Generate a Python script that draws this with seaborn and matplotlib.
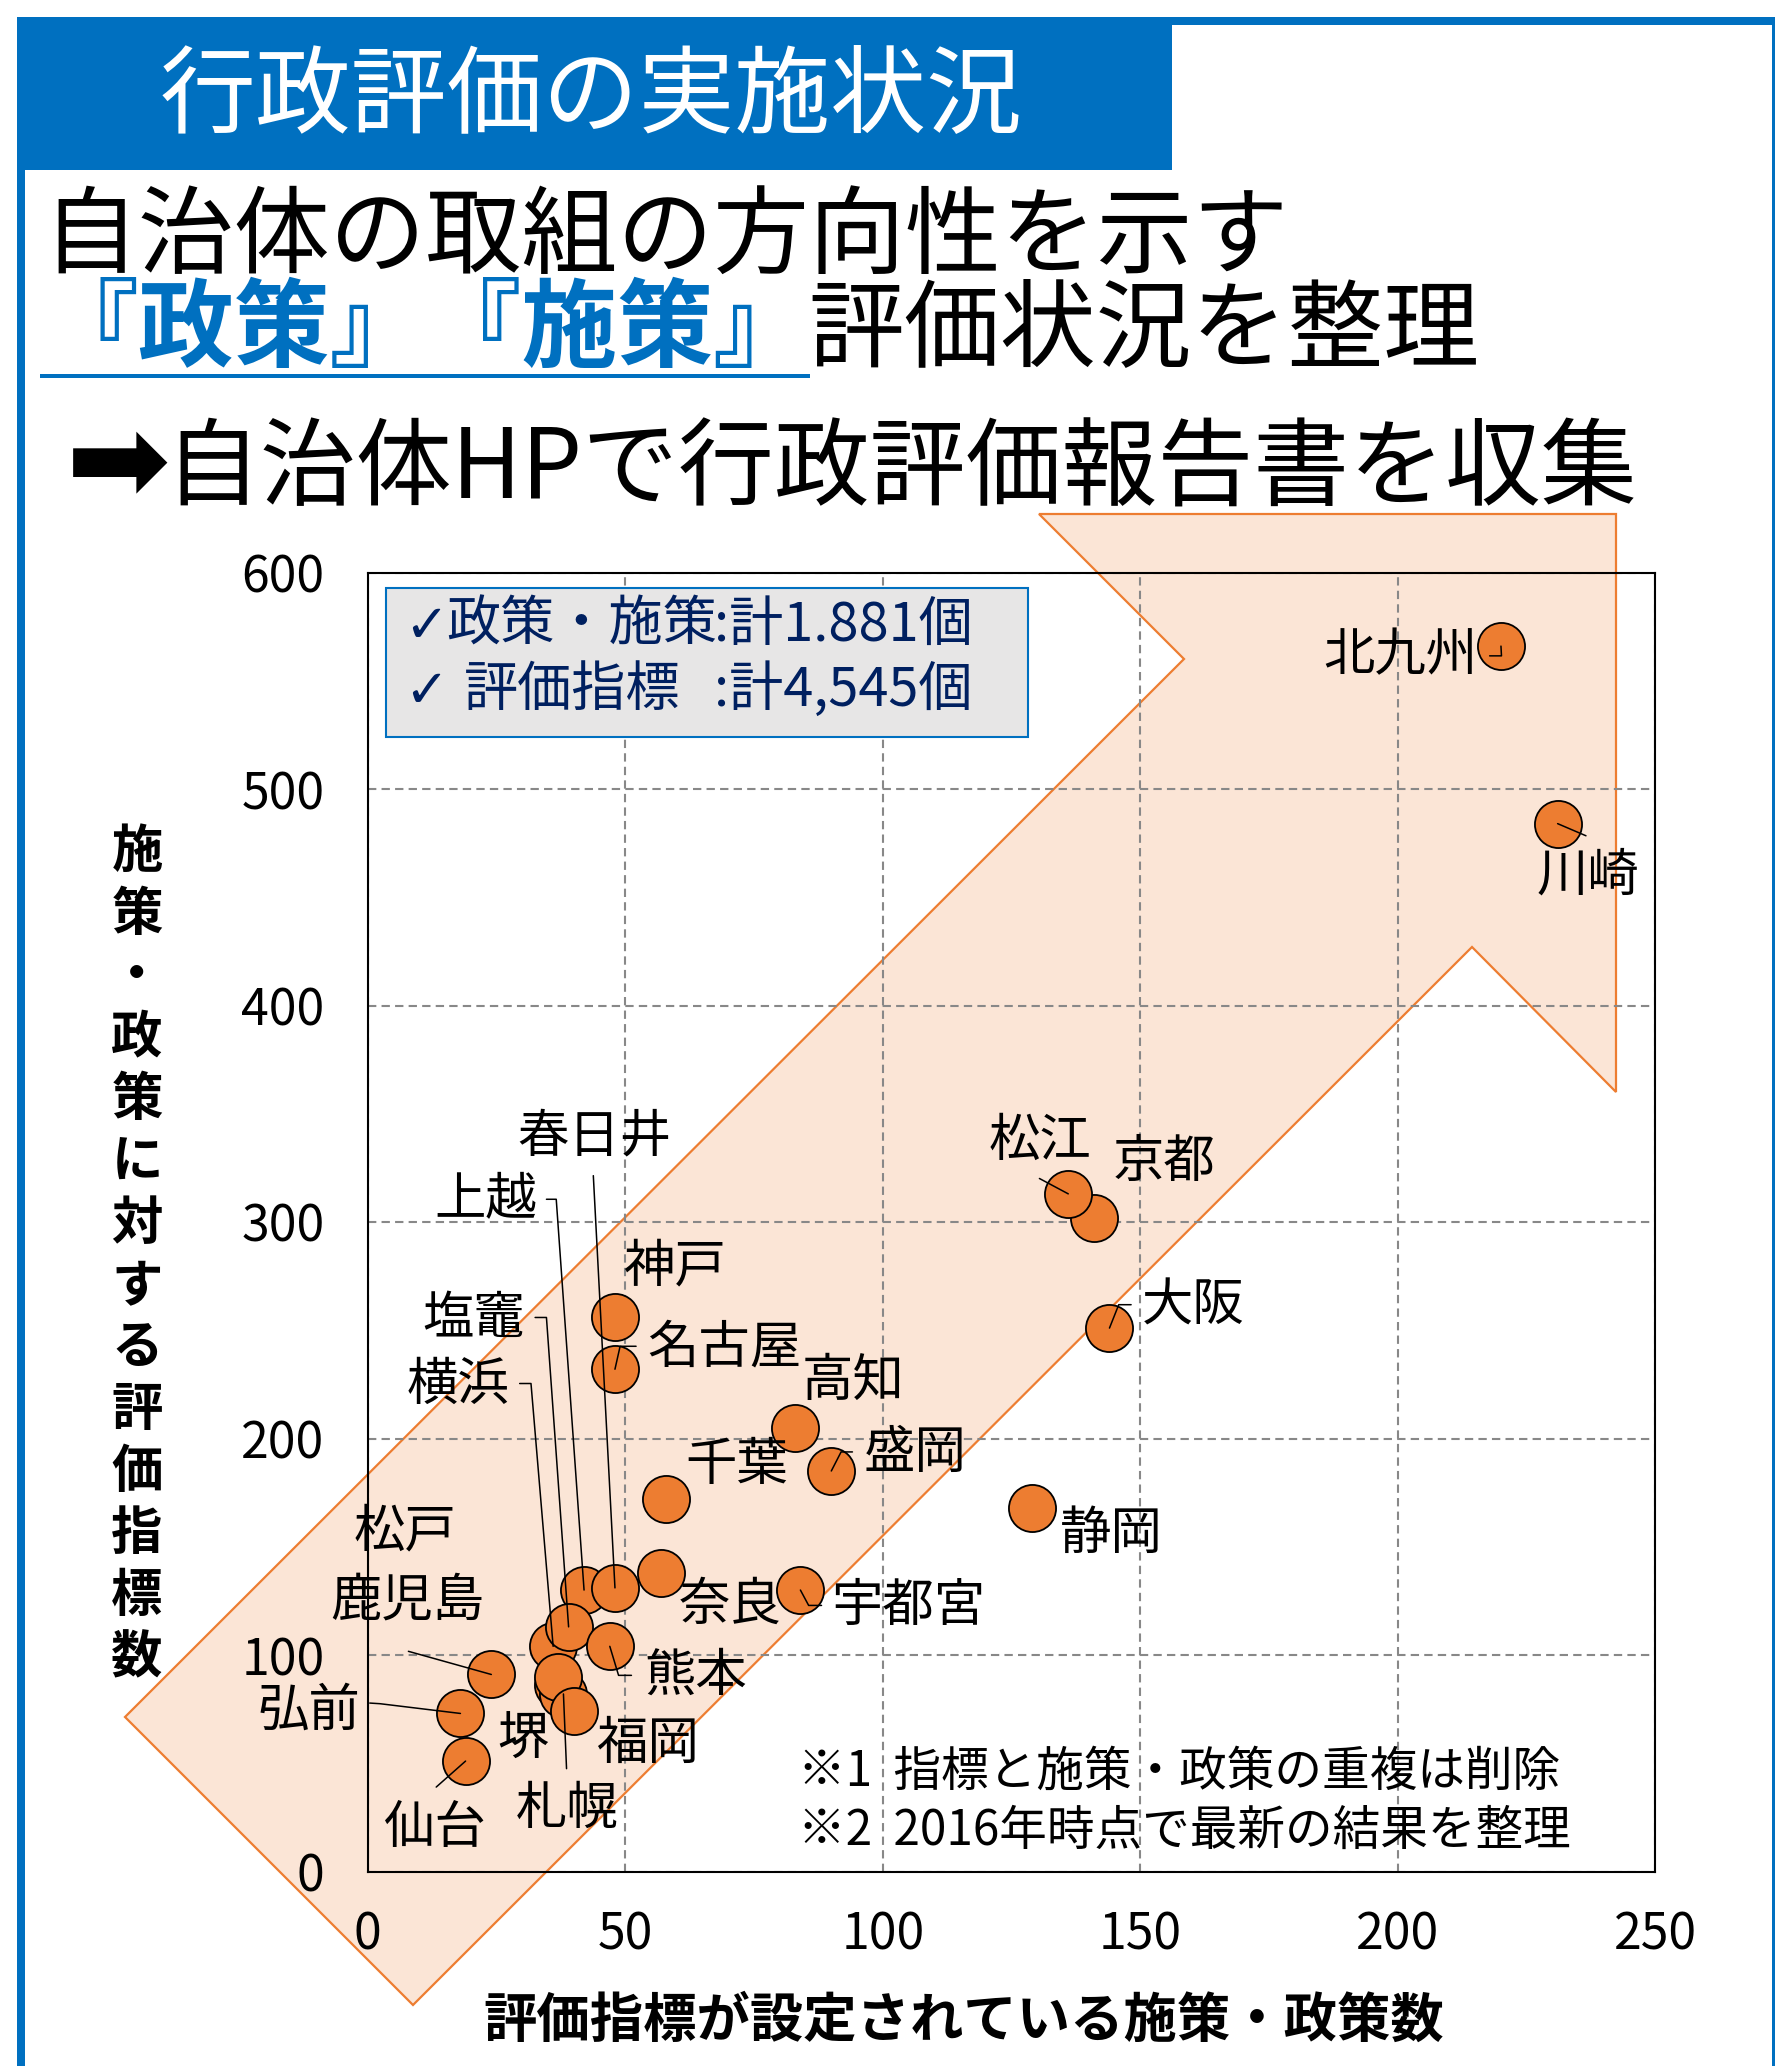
import matplotlib
matplotlib.use("Agg")
import matplotlib.pyplot as plt
from matplotlib import font_manager as fm
import seaborn as sns
import pandas as pd
from matplotlib.patches import Polygon, Rectangle

# ---------------- data ----------------
cities = ['松戸', '横浜', '札幌', '上越', '春日井', '塩竈', '堺', '福岡', '熊本', '奈良',
          '宇都宮', '千葉', '高知', '盛岡', '神戸', '名古屋', '静岡', '大阪', '京都', '松江',
          '仙台', '弘前', '鹿児島', '川崎', '北九州']
# 評価指標が設定されている施策・政策数
policies = [37, 36, 38, 42, 48, 39, 37, 40, 47, 57,
            84, 58, 83, 90, 48, 48, 129, 144, 141, 136,
            19, 18, 24, 231, 220]
# 施策・政策に対する評価指標数
indicators = [86, 104, 82, 130, 131, 113, 90, 74, 104, 138,
              130, 172, 205, 185, 256, 232, 168, 251, 302, 313,
              51, 73, 91, 484, 566]
x_ticks = [0, 50, 100, 150, 200, 250]
y_ticks = [0, 100, 200, 300, 400, 500, 600]

title = '行政評価の実施状況'
line2 = '自治体の取組の方向性を示す'
line3_blue = '『政策』『施策』'
line3_black = '評価状況を整理'
line4_arrow = '➡'
line4 = '自治体HPで行政評価報告書を収集'
check = '✓'
box_left = ['政策・施策', '評価指標']
box_right = [':計1.881個', ':計4,545個']
notes = ['※1  指標と施策・政策の重複は削除', '※2  2016年時点で最新の結果を整理']
xlabel = '評価指標が設定されている施策・政策数'
ylabel = '施策・政策に対する評価指標数'

# label positions (data coords) and leader-line paths (label side -> point)
label_pos = {
    '北九州': (200.4, 561.7), '川崎': (236.9, 460.0), '松江': (130.5, 337.4),
    '京都': (154.6, 327.6), '大阪': (160.3, 261.3), '静岡': (144.3, 155.7),
    '高知': (94.2, 226.6), '盛岡': (106.2, 193.1), '千葉': (71.6, 187.6),
    '神戸': (59.5, 279.5), '名古屋': (69.3, 241.8), '春日井': (44.0, 339.2),
    '上越': (22.9, 310.0), '塩竈': (20.5, 255.2), '横浜': (17.5, 224.7),
    '松戸': (7.3, 156.8), '鹿児島': (7.75, 124.9), '弘前': (-11.5, 74.3),
    '仙台': (13.2, 20.1), '札幌': (38.8, 29.0), '堺': (30.1, 60.9),
    '福岡': (54.2, 58.6), '熊本': (63.6, 90.2), '奈良': (70.3, 123.3),
    '宇都宮': (104.9, 122.5),
}
leaders = {
    '春日井': [(43.8, 321.4)],
    '上越': [(34.7, 310.5), (36.6, 310.5)],
    '塩竈': [(32.5, 255.9), (34.7, 255.9)],
    '横浜': [(29.5, 225.4), (31.7, 225.4)],
    '名古屋': [(52.1, 242.6), (49.0, 242.6)],
    '盛岡': [(94.1, 193.8), (91.9, 193.8)],
    '松江': [(130.4, 320.1)],
    '大阪': [(148.2, 261.8), (145.8, 261.8)],
    '宇都宮': [(88.1, 122.9), (85.6, 122.9)],
    '熊本': [(51.2, 90.6), (48.7, 90.6)],
    '鹿児島': [(7.9, 101.7)],
    '弘前': [(0.4, 77.8), (2.4, 77.5)],
    '仙台': [(13.3, 39.0)],
    '札幌': [(38.6, 47.5)],
    '川崎': [(236.5, 478.4)],
    '北九州': [(217.8, 561.5), (220.1, 561.5)],
}

# ---------------- style ----------------
sns.set_theme(style='white')
plt.rcParams['font.family'] = ['Noto Sans CJK JP', 'DejaVu Sans']


def has_font(name):
    try:
        fm.findfont(fm.FontProperties(family=name), fallback_to_default=False)
        return True
    except Exception:
        return False


if has_font('Liberation Sans Narrow'):
    TICK_FAMILY, TICK_SIZE = ['Liberation Sans Narrow', 'DejaVu Sans'], 39
else:
    TICK_FAMILY, TICK_SIZE = ['Noto Sans CJK JP', 'DejaVu Sans'], 36

BLUE = '#0070C0'
ORANGE = '#ED7D31'
PEACH = '#FBE5D6'
NAVY = '#002060'

W, H = 1775, 2066
fig = plt.figure(figsize=(W / 100, H / 100), dpi=100)
fig.patch.set_facecolor('white')


def fxy(px, py):
    return px / W, 1 - py / H


def frect(x0, y0, x1, y1, **kw):
    r = Rectangle(fxy(x0, y1), (x1 - x0) / W, (y1 - y0) / H,
                  transform=fig.transFigure, **kw)
    fig.add_artist(r)
    return r


def ftext(px, py, s, **kw):
    x, y = fxy(px, py)
    return fig.text(x, y, s, **kw)


# blue frame + title band
frect(17, 16.5, 25, H + 5, facecolor=BLUE, edgecolor='none', zorder=1)
frect(17, 16.5, W + 5, 25, facecolor=BLUE, edgecolor='none', zorder=1)
frect(1772, 16.5, W + 5, H + 5, facecolor=BLUE, edgecolor='none', zorder=1)
frect(17, 16.5, 1172, 170, facecolor=BLUE, edgecolor='none', zorder=1)
ftext(160, 97, title, color='white', fontsize=69, va='center', ha='left', zorder=3)

# headline lines
ftext(42, 238, line2, color='black', fontsize=69, va='center', ha='left')
ftext(42, 331, line3_blue, color=BLUE, fontsize=69, fontweight='bold', va='center', ha='left')
ftext(808, 331, line3_black, color='black', fontsize=69, va='center', ha='left')
frect(40, 374.5, 810, 378, facecolor=BLUE, edgecolor='none', zorder=1)
ftext(66, 468, line4_arrow, color='black', fontsize=90, va='center', ha='left',
      family=['DejaVu Sans'])
ftext(164, 471, line4, color='black', fontsize=69, va='center', ha='left')

# big background arrow (decoration, figure pixels)
arrow_px = [(125, 1717), (1184, 659), (1039, 514), (1616, 514), (1616, 1092),
            (1472, 947), (413, 2005)]
poly = Polygon([fxy(*p) for p in arrow_px], closed=True, transform=fig.transFigure,
               facecolor=PEACH, edgecolor=ORANGE, linewidth=1.6, zorder=-1)
fig.add_artist(poly)

# ---------------- axes ----------------
ax = fig.add_axes([367.7 / W, 1 - 1871.5 / H, (1655.5 - 367.7) / W, (1871.5 - 572.5) / H])
ax.set_facecolor('none')
df = pd.DataFrame({'city': cities, 'x': policies, 'y': indicators})
sns.scatterplot(data=df, x='x', y='y', ax=ax, s=1150, color=ORANGE,
                edgecolor='black', linewidth=1.3, zorder=5, legend=False)
ax.set_xlim(x_ticks[0], x_ticks[-1])
ax.set_ylim(y_ticks[0], y_ticks[-1])
ax.set_xticks(x_ticks)
ax.set_yticks(y_ticks)
ax.set_xticklabels([str(v) for v in x_ticks])
ax.set_yticklabels([str(v) for v in y_ticks])
ax.set_xlabel('')
ax.set_ylabel('')
ax.grid(True, color='#888888', linestyle=(0, (4, 2.5)), linewidth=1.5)
ax.set_axisbelow(True)
for sp in ax.spines.values():
    sp.set_visible(True)
    sp.set_color('black')
    sp.set_linewidth(1.5)
ax.tick_params(axis='x', length=0, pad=27)
ax.tick_params(axis='y', length=0, pad=31)
for lab in ax.get_xticklabels() + ax.get_yticklabels():
    lab.set_fontfamily(TICK_FAMILY)
    lab.set_fontsize(TICK_SIZE)
    lab.set_color('black')

pts = dict(zip(cities, zip(policies, indicators)))
for name, (lx, ly) in label_pos.items():
    ax.text(lx, ly, name, fontsize=37, ha='center', va='center', color='black',
            zorder=7, clip_on=False)
for name, path in leaders.items():
    xs = [p[0] for p in path] + [pts[name][0]]
    ys = [p[1] for p in path] + [pts[name][1]]
    ax.plot(xs, ys, color='black', linewidth=1.1, zorder=6, clip_on=False)

# info box
frect(386, 588, 1028, 737, facecolor='#E7E6E6', edgecolor=BLUE, linewidth=1.5, zorder=2)
for i, (a, b) in enumerate(zip(box_left, box_right)):
    yy = [625, 690][i]
    ftext(404, yy + 2, check, color=NAVY, fontsize=38, fontweight='bold',
          va='center', ha='left', zorder=3, family=['DejaVu Sans'])
    ftext([446, 464][i], yy, a, color=NAVY, fontsize=39, va='center', ha='left', zorder=3)
    ftext(714, yy, b, color=NAVY, fontsize=39, va='center', ha='left', zorder=3)

# notes
ftext(798, 1772, notes[0], color='black', fontsize=34.3, va='center', ha='left', zorder=3)
ftext(798, 1831, notes[1], color='black', fontsize=34.3, va='center', ha='left', zorder=3)

# axis labels
ftext(963.5, 2021, xlabel, color='black', fontsize=38.4, fontweight='bold',
      va='center', ha='center')
for i, ch in enumerate(ylabel):
    ftext(137, 852 + 62 * i, ch, color='black', fontsize=37, fontweight='bold',
          va='center', ha='center')

fig.savefig('out.png', dpi=100, facecolor='white')
